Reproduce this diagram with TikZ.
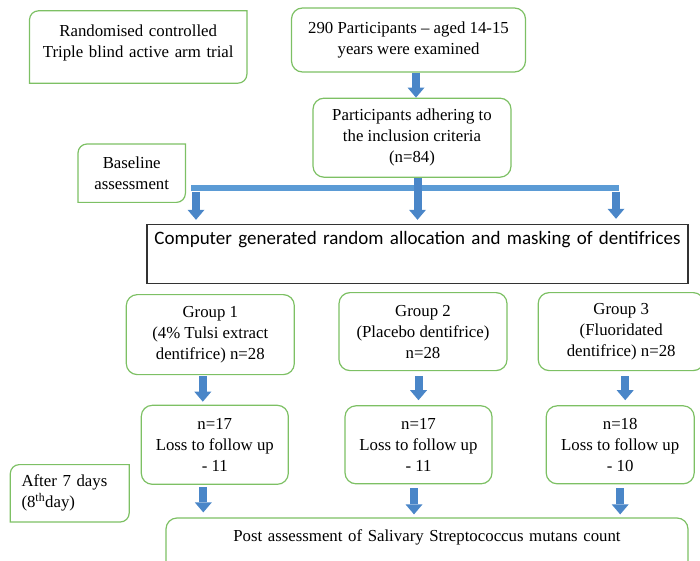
\documentclass[tikz,border=0pt]{standalone}
\usepackage{fontspec}
\setmainfont{Liberation Serif}
\newfontfamily\calibrifont{Carlito}
\usepackage{tikz}
\usetikzlibrary{positioning, arrows.meta}
\definecolor{boxgreen}{RGB}{125,192,100}
\definecolor{arrowblue}{RGB}{74,134,200}
\definecolor{barblue}{RGB}{91,155,213}
\tikzstyle{greenbox} = [rectangle, rounded corners=11pt, draw=boxgreen, line width=1.2pt, align=center, inner sep=3pt, font=\fontsize{16.8}{21}\selectfont]
\tikzstyle{diagbox} = [rectangle, draw=none, align=center, inner sep=3pt, font=\fontsize{16.8}{21}\selectfont]
\tikzstyle{plainbox} = [rectangle, draw=black!80, line width=1.2pt, align=center, inner sep=3pt]
\tikzstyle{arrow} = [line width=8pt, draw=arrowblue, -{Triangle[width=17pt,length=10pt,line width=0pt]}]
\tikzstyle{bar} = [line width=5.5pt, draw=barblue]
\tikzstyle{boxline} = [draw=boxgreen, line width=1.2pt]
\newcommand{\diagframe}[1]{\draw [boxline] (#1.south west) -- ([yshift=-9pt]#1.north west) arc[start angle=180, end angle=90, radius=9pt] -- (#1.north east) -- ([yshift=9pt]#1.south east) arc[start angle=0, end angle=-90, radius=9pt] -- cycle;}
\begin{document}
\begin{tikzpicture}[x=1pt, y=1pt]
    \useasboundingbox (0,0) rectangle (700,-561);
    \node (exam) [greenbox, minimum width=234pt, minimum height=64pt] at (408.5,-40) {290 Participants -- aged 14-15\\years were examined};
    \node (incl) [greenbox, below=25pt of exam, xshift=3.5pt, minimum width=198pt, minimum height=79pt] {Participants adhering to\\the inclusion criteria\\(n=84)};
    \node (trial) [diagbox, left=44pt of exam, yshift=-7pt, text width=211pt, text height=22.7pt, text depth=43.3pt] {Randomised controlled\\Triple blind active arm trial};
    \node (base) [diagbox, left=127pt of incl, yshift=-35.5pt, minimum width=107pt, minimum height=58pt] {Baseline\\assessment};
    \node (alloc) [plainbox, below=46pt of incl, xshift=5.5pt, text width=535pt, text height=17pt, text depth=36pt, font=\calibrifont\fontsize{19}{23}\selectfont] {Computer generated random allocation and masking of dentifrices};
    \node (grp2) [greenbox, below=8pt of alloc, xshift=5.5pt, minimum width=168pt, minimum height=78pt] {Group 2\\(Placebo dentifrice)\\n=28};
    \node (grp1) [greenbox, left=43.5pt of grp2, yshift=-3pt, minimum width=168pt, minimum height=80pt] {Group 1\\(4\% Tulsi extract\\dentifrice) n=28};
    \node (grp3) [greenbox, right=30pt of grp2, minimum width=166pt, minimum height=78pt] {Group 3\\(Fluoridated\\dentifrice) n=28};
    \node (fu2) [greenbox, below=34pt of grp2, xshift=-4.5pt, minimum width=147pt, minimum height=78pt] {n=17\\Loss to follow up\\- 11};
    \node (fu1) [greenbox, left=55.5pt of fu2, minimum width=147pt, minimum height=79pt] {n=17\\Loss to follow up\\- 11};
    \node (fu3) [greenbox, right=53pt of fu2, minimum width=148pt, minimum height=78pt] {n=18\\Loss to follow up\\- 10};
    \node (post) [greenbox, below=33pt of fu2, xshift=8.5pt, text width=516pt, text height=20.5pt, text depth=29.5pt] {Post assessment of Salivary Streptococcus mutans count};
    \node (week) [diagbox, left=11.5pt of fu1, yshift=-48.5pt, align=left, inner xsep=11pt, text width=96.5pt, minimum height=57pt] {After 7 days\\(8\textsuperscript{th}day)};
    \diagframe{trial}
    \diagframe{base}
    \diagframe{week}
    \coordinate (barL) at (191,-188);
    \coordinate (barR) at (619,-188);
    \coordinate (splitA) at (196,-192);
    \coordinate (splitC) at (616,-192);
    \draw [arrow] ([xshift=4pt]incl.north |- exam.south) -- ([xshift=4pt]incl.north);
    \draw [bar] (barL) -- (barR);
    \draw [arrow, shorten >=4pt] (alloc.north |- incl.south) -- (alloc.north);
    \draw [arrow, shorten >=4pt] (splitA) -- (splitA |- alloc.north);
    \draw [arrow, shorten >=5pt] (splitC) -- (splitC |- alloc.north);
    \draw [arrow, shorten <=1pt, shorten >=3pt] ([xshift=-7.5pt]grp1.south) -- ([xshift=-7.5pt]grp1.south |- fu1.north);
    \draw [arrow, shorten <=5pt, shorten >=5pt] (fu2.north |- grp2.south) -- (fu2.north);
    \draw [arrow, shorten <=5pt, shorten >=5pt] ([xshift=4pt]grp3.south) -- ([xshift=4pt]grp3.south |- fu3.north);
    \draw [arrow, shorten <=2pt, shorten >=5pt] ([xshift=-11.5pt]fu1.south) -- ([xshift=-11.5pt]fu1.south |- post.north);
    \draw [arrow, shorten <=4pt, shorten >=3pt] ([xshift=-4.5pt]fu2.south) -- ([xshift=-4.5pt]fu2.south |- post.north);
    \draw [arrow, shorten <=4pt, shorten >=3pt] (fu3.south) -- (fu3.south |- post.north);
    \end{tikzpicture}
\end{document}
